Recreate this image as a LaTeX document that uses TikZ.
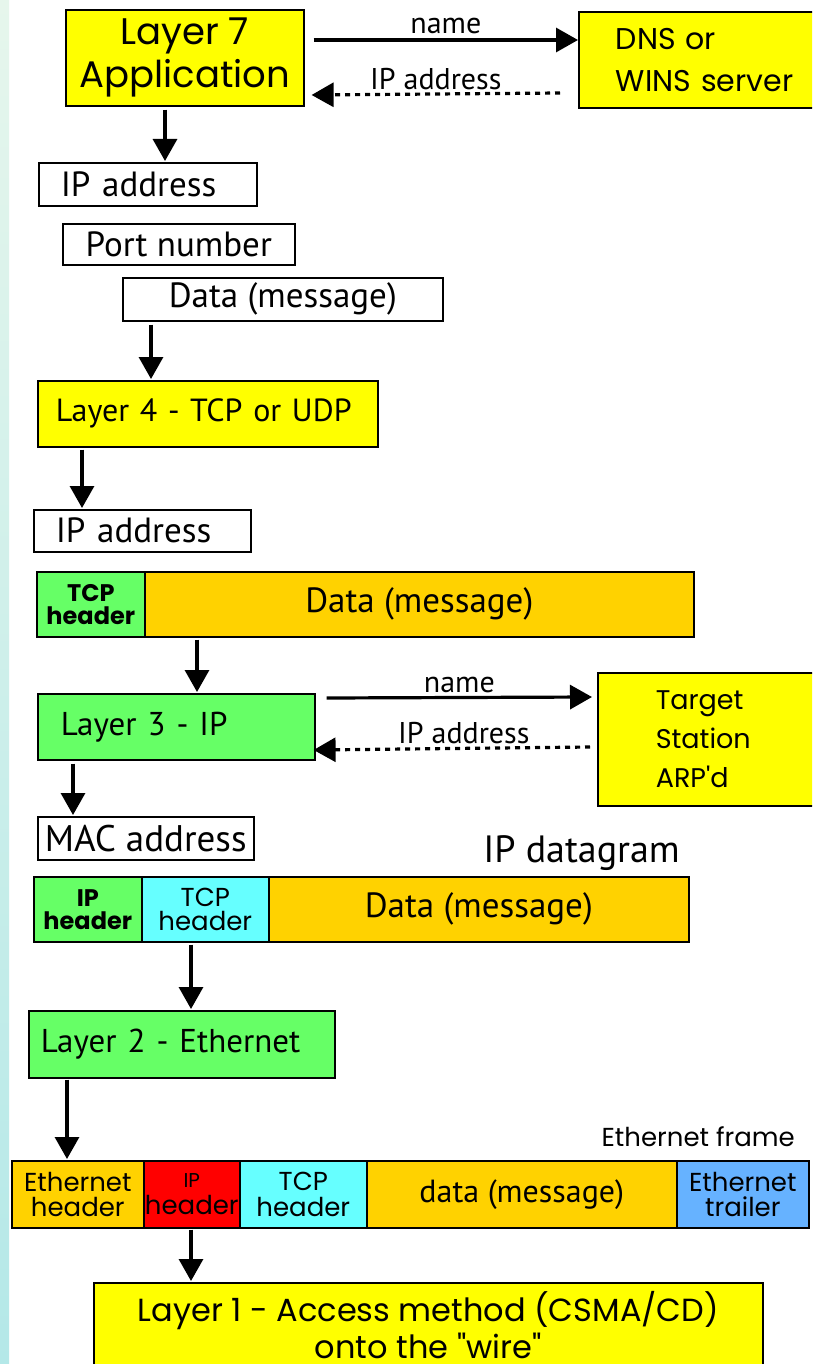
\documentclass[tikz,border=0pt]{standalone}
\usepackage{fontspec}
\setmainfont{PT Sans}
\newfontfamily\widefont{Poppins}
\usetikzlibrary{arrows.meta,calc}

\definecolor{ylw}{HTML}{FFFF00}
\definecolor{grn}{HTML}{66FF66}
\definecolor{org}{HTML}{FFD200}
\definecolor{cyn}{HTML}{66FFFF}
\definecolor{rd}{HTML}{FF0000}
\definecolor{blu}{HTML}{66B2FF}
\definecolor{stripA}{HTML}{E6F6EC}
\definecolor{stripB}{HTML}{B4E8E8}

\newcommand{\fs}[1]{\fontsize{#1}{1.25\dimexpr#1pt\relax}\selectfont}

\tikzset{
  box/.style={draw=black, line width=1.6pt, inner sep=0pt, anchor=north west, align=center},
  lbox/.style={box, align=left},
  arr/.style={line width=3.2pt, -{Triangle[length=22pt,width=24pt]}},
  dotarr/.style={line width=3.2pt, dash pattern=on 5pt off 5pt, -{Triangle[length=22pt,width=24pt]}},
  lbl/.style={font=\fs{30}, inner sep=1pt},
  hdr/.style={box, font=\widefont\fs{26}},
  bhdr/.style={box, font=\widefont\bfseries\fs{24}},
}

\begin{document}
\begin{tikzpicture}[x=1pt,y=-1pt]
% page and left edge strip
\path[fill=white] (0,0) rectangle (812,1364);
\useasboundingbox (0,0) rectangle (812,1364);
\clip (0,0) rectangle (812,1364);
\shade[top color=stripA, bottom color=stripB] (0,0) rectangle (9,1364);

% ---- Layer 7 and name lookup
\node[box, fill=ylw, minimum width=238pt, minimum height=96pt, font=\widefont\fs{37}] (l7) at (65,9) {Layer 7\\[-3pt]Application};
\node[lbox, fill=ylw, minimum height=96pt, inner xsep=37pt, text width=200pt, font=\widefont\fs{30}] (dns) at (578,11) {DNS or\\[4pt]WINS server};
\draw[arr] ($(l7.north east)+(9,31)$) -- ($(dns.north west)+(0,29)$) node[midway, above, lbl, yshift=4pt] {name};
\draw[dotarr] ($(dns.north west)+(-18,82)$) -- ($(l7.north east)+(7,86)$) node[midway, above, lbl, yshift=2pt] {IP address};

% ---- addressing for layer 4
\node[lbox, minimum height=43pt, inner xsep=22pt, text width=174pt, font=\fs{35}] (ipa1) at (38,162) {IP address};
\node[box, minimum width=232pt, minimum height=41pt, font=\fs{35}] (port) at (62,223) {Port number};
\node[box, minimum width=320pt, minimum height=43pt, font=\fs{35}] (msg1) at (122,277) {Data (message)};
\draw[arr] ($(l7.south west)+(100,3)$) -- ($(ipa1.north west)+(127,-1)$);

% ---- Layer 4
\node[lbox, fill=ylw, minimum height=66pt, inner xsep=18pt, text width=304pt, font=\fs{32}] (l4) at (37,380) {Layer 4 - TCP or UDP};
\draw[arr] ($(msg1.south west)+(29,3)$) -- ($(l4.north west)+(114,-1)$);

\node[lbox, minimum height=42pt, inner xsep=22pt, text width=173pt, font=\fs{35}] (ipa2) at (33,509) {IP address};
\draw[arr] ($(l4.south west)+(45,2)$) -- ($(ipa2.north west)+(49,-1)$);

% ---- TCP segment
\node[bhdr, fill=grn, minimum width=108pt, minimum height=65pt] (tcph1) at (36,571) {TCP\\[-7pt]header};
\node[box, fill=org, minimum width=549pt, minimum height=65pt, font=\fs{35}] (data2) at (144,571) {Data (message)};

% ---- Layer 3 and ARP
\node[lbox, fill=grn, minimum height=66pt, inner xsep=23pt, text width=231pt, font=\fs{33}] (l3) at (37,693) {Layer 3 - IP};
\draw[arr] ($(tcph1.south west)+(161,2)$) -- ($(l3.north west)+(160,-1)$);
\node[lbox, fill=ylw, minimum height=133pt, inner xsep=58pt, text width=160pt, font=\widefont\fs{27}] (arp) at (597,672) {Target\\[5pt]Station\\[5pt]ARP'd};
\draw[arr] ($(l3.north east)+(11,5)$) -- ($(arp.north west)+(-5,25)$) node[midway, above, lbl, yshift=2pt] {name};
\draw[dotarr] ($(arp.north west)+(-7,75)$) -- ($(l3.north east)+(-2,57)$) node[midway, above, lbl, xshift=12pt, yshift=2pt] {IP address};

\node[box, minimum width=216pt, minimum height=43pt, font=\fs{37}] (mac) at (37,816) {MAC address};
\draw[arr] ($(l3.south west)+(36,3)$) -- ($(mac.north west)+(36,-1)$);

% ---- IP datagram
\node[font=\fs{38}, anchor=base east, inner sep=0pt] (dgram) at (680,862) {IP datagram};
\node[bhdr, fill=grn, minimum width=108pt, minimum height=65pt] (iph1) at (33,876) {IP\\[-7pt]header};
\node[hdr, fill=cyn, minimum width=127pt, minimum height=65pt] (tcph2) at (141,876) {TCP\\[-8pt]header};
\node[box, fill=org, minimum width=420pt, minimum height=65pt, font=\fs{35}] (data3) at (268,876) {Data (message)};

% ---- Layer 2
\node[lbox, fill=grn, minimum height=67pt, inner xsep=12pt, text width=282pt, font=\fs{33}] (l2) at (28,1010) {Layer 2 - Ethernet};
\draw[arr] ($(tcph2.south west)+(50,2)$) -- ($(l2.north west)+(163,-1)$);

% ---- Ethernet frame
\node[font=\widefont\fs{26}, anchor=base east, inner sep=0pt] (eframe) at (795,1146) {Ethernet frame};
\node[hdr, fill=org, minimum width=132pt, minimum height=67pt] (ethh) at (11,1160) {Ethernet\\[-7pt]header};
\node[hdr, fill=rd, minimum width=96pt, minimum height=67pt] (iph2) at (143,1160) {{\fs{20}IP}\\[-5pt]header};
\node[hdr, fill=cyn, minimum width=127pt, minimum height=67pt] (tcph3) at (239,1160) {TCP\\[-7pt]header};
\node[box, fill=org, minimum width=310pt, minimum height=67pt, font=\fs{32}] (data4) at (366,1160) {data (message)};
\node[hdr, fill=blu, minimum width=132pt, minimum height=67pt] (etht) at (676,1160) {Ethernet\\[-7pt]trailer};
\draw[arr] ($(l2.south west)+(39,1)$) -- ($(ethh.north west)+(56,-1)$);

% ---- Layer 1
\node[box, fill=ylw, minimum width=669pt, minimum height=84pt, font=\widefont\fs{32}] (l1) at (93,1282) {Layer 1 - Access method (CSMA/CD)\\[-3pt]onto the "wire"};
\draw[arr] ($(iph2.south west)+(48,1)$) -- ($(l1.north west)+(98,-1)$);
\end{tikzpicture}
\end{document}
